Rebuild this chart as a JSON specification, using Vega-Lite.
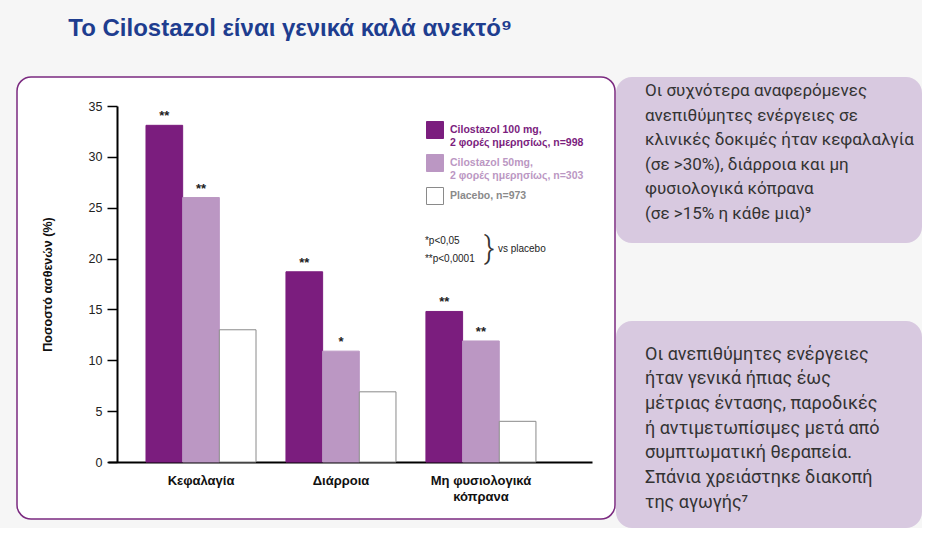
{
  "$schema": "https://vega.github.io/schema/vega-lite/v6.json",
  "background": "#f6f6f6",
  "padding": {"left": 16, "top": 17, "right": 0, "bottom": 0},
  "title": {
    "text": "Το Cilostazol είναι γενικά καλά ανεκτό⁹",
    "anchor": "start",
    "dx": 52,
    "offset": 35,
    "font": "Liberation Sans, Arial, sans-serif",
    "fontSize": 24,
    "fontWeight": "bold",
    "color": "#1e3d8f"
  },
  "spacing": 0,
  "hconcat": [
    {
      "width": 598,
      "height": 442,
      "view": {"fill": "white", "stroke": "#7b2a80", "strokeWidth": 1.5, "cornerRadius": 14},
      "data": {
        "values": [
          {"cat": "Κεφαλαγία", "series": "Cilostazol 100 mg, 2 φορές ημερησίως, n=998", "value": 33.1, "sig": "**"},
          {"cat": "Κεφαλαγία", "series": "Cilostazol 50mg, 2 φορές ημερησίως, n=303", "value": 26.0, "sig": "**"},
          {"cat": "Κεφαλαγία", "series": "Placebo, n=973", "value": 13.0, "sig": ""},
          {"cat": "Διάρροια", "series": "Cilostazol 100 mg, 2 φορές ημερησίως, n=998", "value": 18.7, "sig": "**"},
          {"cat": "Διάρροια", "series": "Cilostazol 50mg, 2 φορές ημερησίως, n=303", "value": 10.9, "sig": "*"},
          {"cat": "Διάρροια", "series": "Placebo, n=973", "value": 6.9, "sig": ""},
          {"cat": "Μη φυσιολογικά κόπρανα", "series": "Cilostazol 100 mg, 2 φορές ημερησίως, n=998", "value": 14.8, "sig": "**"},
          {"cat": "Μη φυσιολογικά κόπρανα", "series": "Cilostazol 50mg, 2 φορές ημερησίως, n=303", "value": 11.9, "sig": "**"},
          {"cat": "Μη φυσιολογικά κόπρανα", "series": "Placebo, n=973", "value": 4.0, "sig": ""}
        ]
      },
      "layer": [
        {
          "mark": {"type": "bar", "strokeWidth": 1},
          "encoding": {
            "x": {
              "field": "cat", "type": "nominal",
              "sort": ["Κεφαλαγία", "Διάρροια", "Μη φυσιολογικά κόπρανα"],
              "scale": {"range": [91, 575], "paddingInner": 0.214, "paddingOuter": 0.336, "align": 0.404},
              "axis": {
                "orient": "bottom", "offset": -57, "title": null, "ticks": false,
                "domainColor": "black", "domainWidth": 2, "labelAngle": 0,
                "labelFont": "Liberation Sans, Arial, sans-serif", "labelFontWeight": "bold",
                "labelFontSize": 13, "labelColor": "#111", "labelPadding": 12, "labelLineHeight": 16,
                "labelExpr": "datum.label == 'Μη φυσιολογικά κόπρανα' ? ['Μη φυσιολογικά', 'κόπρανα'] : datum.label"
              }
            },
            "xOffset": {
              "field": "series", "type": "nominal",
              "sort": ["Cilostazol 100 mg, 2 φορές ημερησίως, n=998", "Cilostazol 50mg, 2 φορές ημερησίως, n=303", "Placebo, n=973"],
              "scale": {"paddingInner": 0, "paddingOuter": 0}
            },
            "y": {
              "field": "value", "type": "quantitative",
              "scale": {"domain": [0, 35], "range": [385, 29], "nice": false},
              "axis": {
                "orient": "left", "offset": -100, "values": [0, 5, 10, 15, 20, 25, 30, 35], "grid": false,
                "domainColor": "black", "domainWidth": 2, "tickColor": "black", "tickWidth": 1.5, "tickSize": 10,
                "labelFont": "Liberation Sans, Arial, sans-serif", "labelFontSize": 12.5, "labelColor": "#222", "labelPadding": 5,
                "title": "Ποσοστό ασθενών (%)", "titleFont": "Liberation Sans, Arial, sans-serif", "titleFontSize": 12.5,
                "titleFontWeight": "bold", "titleColor": "#111", "titlePadding": 34
              }
            },
            "fill": {
              "field": "series", "type": "nominal",
              "scale": {
                "domain": ["Cilostazol 100 mg, 2 φορές ημερησίως, n=998", "Cilostazol 50mg, 2 φορές ημερησίως, n=303", "Placebo, n=973"],
                "range": ["#7b1d7e", "#bb97c3", "#ffffff"]
              },
              "legend": {
                "title": null, "orient": "none", "legendX": 409, "legendY": 44,
                "symbolType": "square", "symbolSize": 289, "symbolStrokeWidth": 1,
                "labelFont": "Liberation Sans, Arial, sans-serif", "labelFontWeight": "bold",
                "labelFontSize": 10.5, "labelLimit": 300, "labelOffset": 6, "rowPadding": 4, "labelLineHeight": 15,
                "labelExpr": "split(replace(datum.label, 'mg, ', 'mg,|'), '|')",
                "encode": {"labels": {"update": {"fill": {"signal": "datum.value == 'Placebo, n=973' ? '#8a8a8a' : (indexof(datum.value, '100') >= 0 ? '#7b1d7e' : '#bb97c3')"}}}}
              }
            },
            "stroke": {
              "field": "series", "type": "nominal",
              "scale": {
                "domain": ["Cilostazol 100 mg, 2 φορές ημερησίως, n=998", "Cilostazol 50mg, 2 φορές ημερησίως, n=303", "Placebo, n=973"],
                "range": ["#7b1d7e", "#bb97c3", "#8a8a8a"]
              },
              "legend": {
                "title": null, "orient": "none", "legendX": 409, "legendY": 44,
                "symbolType": "square", "symbolSize": 289, "symbolStrokeWidth": 1,
                "labelFont": "Liberation Sans, Arial, sans-serif", "labelFontWeight": "bold",
                "labelFontSize": 10.5, "labelLimit": 300, "labelOffset": 6, "rowPadding": 4, "labelLineHeight": 15,
                "labelExpr": "split(replace(datum.label, 'mg, ', 'mg,|'), '|')",
                "encode": {"labels": {"update": {"fill": {"signal": "datum.value == 'Placebo, n=973' ? '#8a8a8a' : (indexof(datum.value, '100') >= 0 ? '#7b1d7e' : '#bb97c3')"}}}}
              }
            }
          }
        },
        {
          "mark": {"type": "text", "baseline": "bottom", "dy": -2, "fontSize": 13, "fontWeight": "bold", "font": "Liberation Sans, Arial, sans-serif", "color": "#222"},
          "encoding": {
            "x": {"field": "cat", "type": "nominal", "sort": ["Κεφαλαγία", "Διάρροια", "Μη φυσιολογικά κόπρανα"]},
            "xOffset": {"field": "series", "type": "nominal", "sort": ["Cilostazol 100 mg, 2 φορές ημερησίως, n=998", "Cilostazol 50mg, 2 φορές ημερησίως, n=303", "Placebo, n=973"]},
            "y": {"field": "value", "type": "quantitative"},
            "text": {"field": "sig"}
          }
        },
        {
          "data": {"values": [{"t": "*p<0,05"}]},
          "mark": {"type": "text", "align": "left", "baseline": "middle", "dx": -1, "fontSize": 10, "font": "Liberation Sans, Arial, sans-serif", "color": "#222"},
          "encoding": {
            "x": {"datum": "Μη φυσιολογικά κόπρανα", "type": "nominal", "bandPosition": 0},
            "y": {"datum": 21.7, "type": "quantitative"},
            "text": {"field": "t"}
          }
        },
        {
          "data": {"values": [{"t": "**p<0,0001"}]},
          "mark": {"type": "text", "align": "left", "baseline": "middle", "dx": -1, "fontSize": 10, "font": "Liberation Sans, Arial, sans-serif", "color": "#222"},
          "encoding": {
            "x": {"datum": "Μη φυσιολογικά κόπρανα", "type": "nominal", "bandPosition": 0},
            "y": {"datum": 20.0, "type": "quantitative"},
            "text": {"field": "t"}
          }
        },
        {
          "data": {"values": [{"t": "}"}]},
          "mark": {"type": "text", "align": "left", "baseline": "middle", "dx": 58, "fontSize": 32, "fontWeight": 300, "font": "Roboto, Liberation Sans, sans-serif", "color": "#333"},
          "encoding": {
            "x": {"datum": "Μη φυσιολογικά κόπρανα", "type": "nominal", "bandPosition": 0},
            "y": {"datum": 20.9, "type": "quantitative"},
            "text": {"field": "t"}
          }
        },
        {
          "data": {"values": [{"t": "vs placebo"}]},
          "mark": {"type": "text", "align": "left", "baseline": "middle", "dx": 72, "fontSize": 10, "font": "Liberation Sans, Arial, sans-serif", "color": "#222"},
          "encoding": {
            "x": {"datum": "Μη φυσιολογικά κόπρανα", "type": "nominal", "bandPosition": 0},
            "y": {"datum": 20.9, "type": "quantitative"},
            "text": {"field": "t"}
          }
        }
      ]
    },
    {
      "spacing": 78,
      "vconcat": [
        {
          "width": 306,
          "height": 166,
          "view": {"fill": "#d8c9e0", "stroke": null, "cornerRadius": 16},
          "data": {"values": [{"lines": ["Οι συχνότερα αναφερόμενες", "ανεπιθύμητες ενέργειες σε", "κλινικές δοκιμές ήταν κεφαλαλγία", "(σε >30%), διάρροια και μη", "φυσιολογικά κόπρανα", "(σε >15% η κάθε μια)⁹"]}]},
          "mark": {"type": "text", "align": "left", "baseline": "middle", "dx": -124, "dy": -69, "fontSize": 17, "lineHeight": 24.5, "font": "Roboto, Liberation Sans, sans-serif", "color": "#333"},
          "encoding": {"text": {"field": "lines"}}
        },
        {
          "width": 306,
          "height": 207,
          "view": {"fill": "#d8c9e0", "stroke": null, "cornerRadius": 16},
          "data": {"values": [{"lines": ["Οι ανεπιθύμητες ενέργειες", "ήταν γενικά ήπιας έως", "μέτριας έντασης, παροδικές", "ή αντιμετωπίσιμες μετά από", "συμπτωματική θεραπεία.", "Σπάνια χρειάστηκε διακοπή", "της αγωγής⁷"]}]},
          "mark": {"type": "text", "align": "left", "baseline": "middle", "dx": -124, "dy": -70, "fontSize": 18, "lineHeight": 24.7, "font": "Roboto, Liberation Sans, sans-serif", "color": "#333"},
          "encoding": {"text": {"field": "lines"}}
        }
      ]
    }
  ],
  "config": {"view": {"stroke": null}, "concat": {"spacing": 0}}
}
